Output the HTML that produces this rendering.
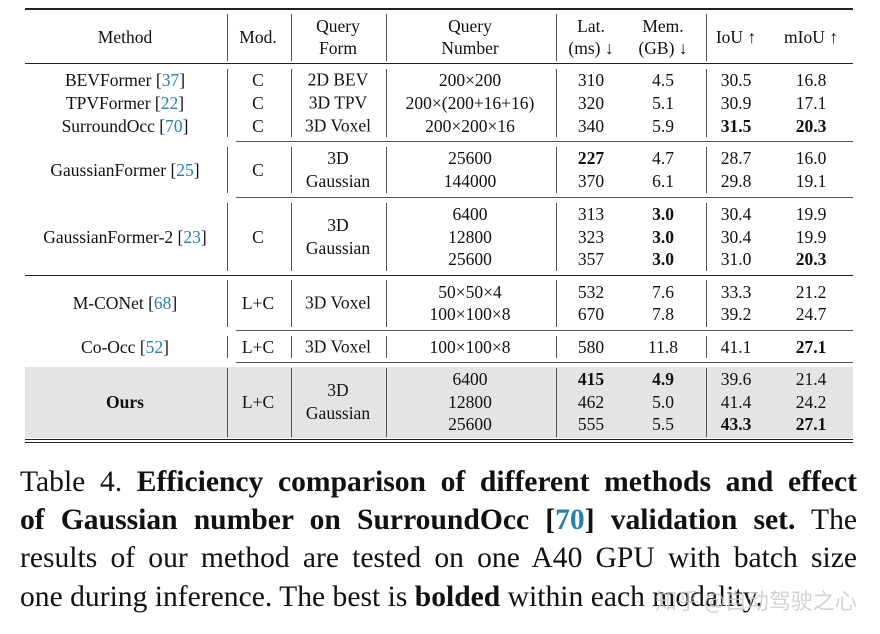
<!DOCTYPE html>
<html><head><meta charset="utf-8"><style>
body{margin:0;width:880px;height:634px;background:#fff;position:relative;overflow:hidden;font-family:"Liberation Serif",serif;color:#111}
.t{position:absolute;font-size:17.5px;line-height:20px;white-space:nowrap;transform:translate(-50%,-50%)}
.b{font-weight:bold}
.ref{color:#2a7fb0}
.h{position:absolute;background:#222}
.v{position:absolute;width:1px;background:#555}
.cap{position:absolute;left:20px;width:837px;font-size:29.6px;line-height:34px;text-align:justify;text-align-last:justify;white-space:nowrap;letter-spacing:0}
</style></head><body>
<div style="position:absolute;left:25px;top:367px;width:828px;height:71px;background:#e4e4e4"></div>
<div class="h" style="left:25px;top:8px;width:828px;height:2px"></div>
<div class="h" style="left:25px;top:63px;width:828px;height:1px"></div>
<div class="h" style="left:236px;top:141px;width:617px;height:1px;background:#555"></div>
<div class="h" style="left:236px;top:197px;width:617px;height:1px;background:#555"></div>
<div class="h" style="left:25px;top:275px;width:828px;height:1px"></div>
<div class="h" style="left:236px;top:330px;width:617px;height:1px;background:#555"></div>
<div class="h" style="left:236px;top:362px;width:617px;height:1px;background:#555"></div>
<div class="h" style="left:25px;top:439px;width:828px;height:1px"></div>
<div class="h" style="left:25px;top:442px;width:828px;height:1px"></div>
<div id="tbl"></div>
<div class="cap" style="top:465px">Table 4. <b>Efficiency comparison of different methods and effect</b></div>
<div class="cap" style="top:503px"><b>of Gaussian number on SurroundOcc [<span class="ref">70</span>] validation set.</b> The</div>
<div class="cap" style="top:541px">results of our method are tested on one A40 GPU with batch size</div>
<div class="cap" style="top:580px;text-align-last:left;width:auto">one during inference. The best is <b>bolded</b> within each modality.</div>
<div style="position:absolute;left:655px;top:584px;font-family:'Noto Sans CJK SC',sans-serif;font-size:22px;color:rgba(200,200,200,0.8)">知乎 @自动驾驶之心</div>
<script>
const colX=[125,258,338,470,591,663,736,811];
const sepX=[227,291,386,556,706];
const groupSpans=[[14,61],[69,137],[147,193],[203,271],[280,327],[336,358],[368,437]];
const headers=[["Method"],["Mod."],["Query","Form"],["Query","Number"],["Lat.","(ms) ↓"],["Mem.","(GB) ↓"],["IoU ↑"],["mIoU ↑"]];
const rowY=[80,103,126,158,181,214,237,259,292,314,347,379,402,424];
const numCol=["200×200","200×(200+16+16)","200×200×16","25600","144000","6400","12800","25600","50×50×4","100×100×8","100×100×8","6400","12800","25600"];
const lat=["310","320","340","227","370","313","323","357","532","670","580","415","462","555"];
const mem=["4.5","5.1","5.9","4.7","6.1","3.0","3.0","3.0","7.6","7.8","11.8","4.9","5.0","5.5"];
const iou=["30.5","30.9","31.5","28.7","29.8","30.4","30.4","31.0","33.3","39.2","41.1","39.6","41.4","43.3"];
const miou=["16.8","17.1","20.3","16.0","19.1","19.9","19.9","20.3","21.2","24.7","27.1","21.4","24.2","27.1"];
const boldCells=["3-4","2-6","2-7","5-5","6-5","7-5","7-7","10-7","11-4","11-5","13-6","13-7"];
const methods=[["BEVFormer ","37",80],["TPVFormer ","22",103],["SurroundOcc ","70",126],["GaussianFormer ","25",170],["GaussianFormer-2 ","23",237],["M-CONet ","68",303],["Co-Occ ","52",347]];
const mods=[["C",80],["C",103],["C",126],["C",170],["C",237],["L+C",303],["L+C",347],["L+C",402]];
const forms=[["2D BEV",80],["3D TPV",103],["3D Voxel",126],["3D<br>Gaussian",170],["3D<br>Gaussian",237],["3D Voxel",303],["3D Voxel",347],["3D<br>Gaussian",402]];
const root=document.getElementById('tbl');
function txt(x,y,html,cls){const d=document.createElement('div');d.className='t '+(cls||'');d.style.left=x+'px';d.style.top=y+'px';d.innerHTML=html;root.appendChild(d);return d;}
headers.forEach((h,i)=>{const d=txt(colX[i],37,h.join('<br>'));d.style.textAlign='center';d.style.lineHeight='22px';

});
sepX.forEach((x,i)=>{groupSpans.forEach(s=>{const v=document.createElement('div');v.className='v';v.style.left=x+'px';v.style.top=s[0]+'px';v.style.height=(s[1]-s[0])+'px';


root.appendChild(v);});});
methods.forEach(m=>{const d=txt(colX[0],m[2],m[0]+'[<span class="ref">'+m[1]+'</span>]');

});
const o=txt(colX[0],402,'Ours','b');


mods.forEach(m=>{const d=txt(colX[1],m[1],m[0]);

});
forms.forEach(m=>{const d=txt(colX[2],m[1],m[0]);d.style.textAlign='center';d.style.lineHeight='23px';

});
const cols=[null,null,null,numCol,lat,mem,iou,miou];
rowY.forEach((y,r)=>{for(let c=3;c<8;c++){const d=txt(colX[c],y,cols[c][r],boldCells.includes(r+'-'+c)?'b':'');

}});
</script>
</body></html>
